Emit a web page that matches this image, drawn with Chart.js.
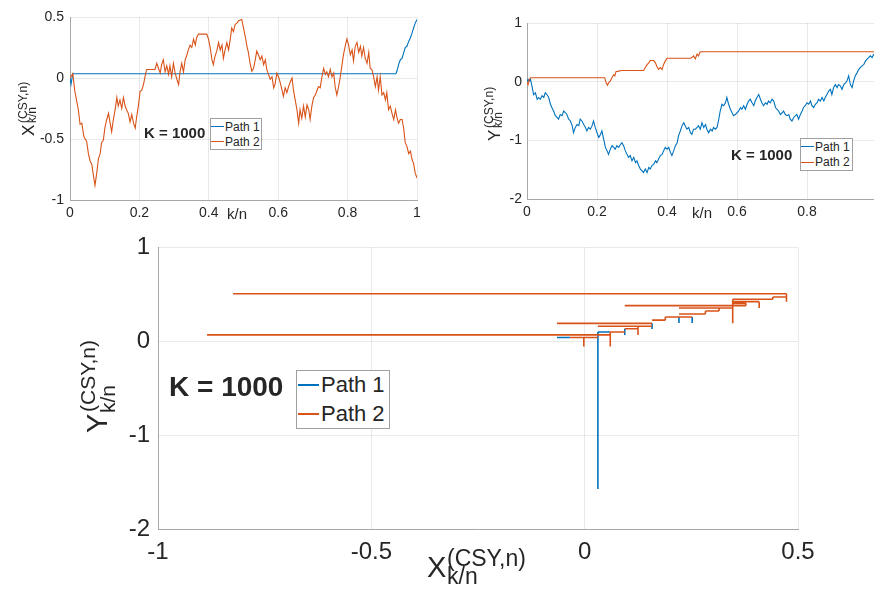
<!DOCTYPE html>
<html>
<head>
<meta charset="utf-8">
<script src="https://cdn.jsdelivr.net/npm/chart.js@4.4.1/dist/chart.umd.min.js"></script>
<style>
  html, body { margin: 0; padding: 0; width: 874px; height: 597px; overflow: hidden; background: #fff; }
  body { position: relative; font-family: 'Liberation Sans', Arial, sans-serif; color: #262626; }
  canvas { position: absolute; }
  .txt { position: absolute; white-space: nowrap; line-height: 1; }
  .grupo { position: absolute; width: 0; height: 0; transform-origin: 0 0; transform: rotate(-90deg); }
  .legenda { position: absolute; background: #fff; border: 1px solid #a0a0a0; box-sizing: border-box; }
  .legenda .linha { display: flex; align-items: center; white-space: nowrap; }
  .legenda .amostra { display: inline-block; height: 0; }
</style>
</head>
<body>
<canvas id="graficoX" width="440" height="225" style="left:0px;top:0px"></canvas>
<canvas id="graficoY" width="455" height="225" style="left:440px;top:0px"></canvas>
<canvas id="graficoXY" width="790" height="365" style="left:50px;top:225px"></canvas>

<script>
// Séries e rótulos
const nomesSeries = ['Path 1', 'Path 2'];
const coresSeries = ['#0072BD', '#D95319'];
const rotuloK = 'K = 1000';

// Marcas dos eixos
const ticksK = [0, 0.2, 0.4, 0.6, 0.8, 1];
const ticksXsup = [-1, -0.5, 0, 0.5];
const ticksYsup = [-2, -1, 0, 1];
const ticksX = [-1, -0.5, 0, 0.5];
const ticksY = [-2, -1, 0, 1];

// Painel superior esquerdo: X_{k/n} contra k/n
const kxPath1 = [0, 0.003, 0.008, 0.939, 0.942, 0.947, 0.952, 0.957, 0.962, 0.966, 0.971, 0.976, 0.981, 0.986, 0.99, 0.995, 1];
const xPath1 = [0, -0.05, 0.035, 0.035, 0.055, 0.11, 0.15, 0.16, 0.21, 0.25, 0.26, 0.30, 0.33, 0.37, 0.41, 0.45, 0.48];

const kxPath2 = [0, 0.008, 0.014, 0.024, 0.029, 0.034, 0.040, 0.048, 0.053, 0.058, 0.063, 0.067, 0.072, 0.077, 0.082, 0.087, 0.091, 0.096, 0.101, 0.106,
  0.111, 0.115, 0.120, 0.125, 0.130, 0.135, 0.139, 0.144, 0.149, 0.154, 0.159, 0.163, 0.168, 0.173, 0.178, 0.183, 0.188, 0.192, 0.197, 0.202,
  0.207, 0.212, 0.216, 0.221, 0.245, 0.250, 0.255, 0.260, 0.264, 0.269, 0.274, 0.279, 0.284, 0.288, 0.293, 0.298, 0.303, 0.308, 0.313, 0.317,
  0.322, 0.327, 0.332, 0.337, 0.341, 0.346, 0.351, 0.356, 0.361, 0.365, 0.370, 0.394, 0.399, 0.404, 0.409, 0.413, 0.418, 0.423, 0.428, 0.433,
  0.438, 0.442, 0.447, 0.452, 0.457, 0.462, 0.466, 0.471, 0.476, 0.481, 0.486, 0.495, 0.500, 0.505, 0.510, 0.514, 0.519, 0.524, 0.529, 0.534,
  0.538, 0.543, 0.548, 0.553, 0.558, 0.563, 0.567, 0.572, 0.577, 0.582, 0.587, 0.591, 0.596, 0.601, 0.606, 0.611, 0.615, 0.620, 0.625, 0.630,
  0.635, 0.640, 0.644, 0.649, 0.654, 0.659, 0.663, 0.668, 0.673, 0.678, 0.683, 0.688, 0.692, 0.697, 0.702, 0.707, 0.712, 0.716, 0.721, 0.726,
  0.731, 0.736, 0.740, 0.745, 0.750, 0.755, 0.760, 0.764, 0.769, 0.774, 0.779, 0.784, 0.788, 0.793, 0.798, 0.803, 0.808, 0.813, 0.817, 0.822,
  0.827, 0.832, 0.837, 0.841, 0.846, 0.851, 0.856, 0.861, 0.865, 0.870, 0.875, 0.880, 0.885, 0.889, 0.894, 0.899, 0.904, 0.909, 0.913, 0.918,
  0.923, 0.928, 0.933, 0.938, 0.942, 0.947, 0.952, 0.957, 0.962, 0.966, 0.971, 0.976, 0.981, 0.986, 0.990, 0.995, 1.000];
const xPath2 = [0, 0.036, -0.11, -0.26, -0.38, -0.37, -0.48, -0.52, -0.62, -0.68, -0.71, -0.79, -0.88, -0.78, -0.66, -0.62, -0.53, -0.51, -0.40, -0.34,
  -0.29, -0.36, -0.44, -0.34, -0.26, -0.16, -0.23, -0.18, -0.25, -0.16, -0.23, -0.26, -0.29, -0.36, -0.30, -0.37, -0.41, -0.32, -0.23, -0.11,
  -0.10, -0.05, 0.01, 0.07, 0.07, 0.12, 0.08, 0.04, 0.11, 0.15, 0.05, 0.10, 0.03, 0.10, 0.01, 0.12, 0.04, -0.01, -0.055, 0.05,
  0.12, 0.05, 0.15, 0.19, 0.23, 0.27, 0.25, 0.32, 0.27, 0.33, 0.36, 0.36, 0.32, 0.25, 0.15, 0.11, 0.18, 0.22, 0.29, 0.23,
  0.27, 0.16, 0.23, 0.29, 0.23, 0.32, 0.41, 0.38, 0.44, 0.45, 0.47, 0.48, 0.41, 0.34, 0.26, 0.21, 0.12, 0.055, 0.08, 0.15,
  0.22, 0.19, 0.15, 0.18, 0.11, 0.15, 0.07, 0.03, -0.01, 0.01, -0.08, -0.05, 0.04, 0.01, -0.04, -0.10, -0.15, -0.08, -0.12, -0.07,
  -0.03, 0, -0.10, -0.18, -0.26, -0.37, -0.26, -0.33, -0.23, -0.32, -0.22, -0.26, -0.34, -0.23, -0.16, -0.14, -0.10, -0.07, -0.08, 0.01,
  0.08, 0.03, 0.05, 0.01, 0.07, 0.01, 0.04, -0.07, -0.14, -0.07, 0.01, 0.11, 0.19, 0.26, 0.32, 0.27, 0.19, 0.23, 0.14, 0.26,
  0.29, 0.21, 0.26, 0.18, 0.25, 0.16, 0.12, 0.21, 0.08, 0.07, 0.01, -0.07, 0.01, -0.10, 0.01, -0.14, -0.12, -0.18, -0.12, -0.26,
  -0.23, -0.29, -0.34, -0.26, -0.32, -0.37, -0.34, -0.34, -0.42, -0.53, -0.56, -0.62, -0.60, -0.67, -0.70, -0.78, -0.82];

// Painel superior direito: Y_{k/n} contra k/n
const kyPath1 = [0, 0.003, 0.007, 0.010, 0.014, 0.019, 0.024, 0.029, 0.033, 0.038, 0.043, 0.048, 0.052, 0.057, 0.062, 0.067, 0.071, 0.076, 0.081, 0.086,
  0.090, 0.095, 0.100, 0.105, 0.110, 0.114, 0.119, 0.124, 0.129, 0.133, 0.138, 0.143, 0.148, 0.152, 0.157, 0.162, 0.167, 0.171, 0.176, 0.181,
  0.186, 0.190, 0.195, 0.200, 0.205, 0.210, 0.214, 0.219, 0.224, 0.229, 0.233, 0.238, 0.243, 0.248, 0.252, 0.257, 0.262, 0.267, 0.271, 0.276,
  0.281, 0.286, 0.290, 0.295, 0.300, 0.305, 0.310, 0.314, 0.319, 0.324, 0.329, 0.333, 0.338, 0.343, 0.348, 0.352, 0.357, 0.362, 0.367, 0.371,
  0.376, 0.381, 0.386, 0.390, 0.395, 0.400, 0.405, 0.410, 0.414, 0.419, 0.424, 0.429, 0.433, 0.438, 0.443, 0.448, 0.452, 0.457, 0.462, 0.467,
  0.471, 0.476, 0.481, 0.486, 0.490, 0.495, 0.500, 0.505, 0.510, 0.514, 0.519, 0.524, 0.529, 0.533, 0.538, 0.543, 0.548, 0.552, 0.557, 0.562,
  0.567, 0.571, 0.576, 0.581, 0.586, 0.590, 0.595, 0.600, 0.605, 0.610, 0.614, 0.619, 0.624, 0.629, 0.633, 0.638, 0.643, 0.648, 0.652, 0.657,
  0.662, 0.667, 0.671, 0.676, 0.681, 0.686, 0.690, 0.695, 0.700, 0.705, 0.710, 0.714, 0.719, 0.724, 0.729, 0.733, 0.738, 0.743, 0.748, 0.752,
  0.757, 0.762, 0.767, 0.771, 0.776, 0.781, 0.786, 0.790, 0.795, 0.800, 0.805, 0.810, 0.814, 0.819, 0.824, 0.829, 0.833, 0.838, 0.843, 0.848,
  0.852, 0.857, 0.862, 0.867, 0.871, 0.876, 0.881, 0.886, 0.890, 0.895, 0.900, 0.905, 0.910, 0.914, 0.919, 0.924, 0.929, 0.933, 0.938, 0.943,
  0.948, 0.952, 0.957, 0.962, 0.967, 0.971, 0.976, 0.981, 0.986, 0.990, 1.000];
const yPath1 = [0, 0.04, 0.01, 0.04, -0.07, -0.22, -0.19, -0.30, -0.27, -0.30, -0.24, -0.27, -0.19, -0.22, -0.27, -0.385, -0.44, -0.50, -0.58, -0.61,
  -0.64, -0.56, -0.58, -0.50, -0.53, -0.56, -0.64, -0.67, -0.75, -0.87, -0.78, -0.73, -0.75, -0.64, -0.67, -0.73, -0.78, -0.84, -0.78, -0.81,
  -0.75, -0.67, -0.78, -0.87, -0.95, -0.90, -0.84, -0.98, -1.12, -1.18, -1.24, -1.15, -1.09, -1.12, -1.15, -1.09, -1.12, -1.07, -1.04, -1.09,
  -1.18, -1.24, -1.29, -1.26, -1.35, -1.29, -1.38, -1.35, -1.43, -1.49, -1.52, -1.55, -1.49, -1.55, -1.46, -1.49, -1.43, -1.41, -1.35, -1.38,
  -1.32, -1.26, -1.24, -1.18, -1.12, -1.15, -1.12, -1.21, -1.26, -1.18, -1.09, -1.04, -0.92, -0.84, -0.75, -0.70, -0.75, -0.81, -0.78, -0.87,
  -0.90, -0.81, -0.81, -0.78, -0.75, -0.81, -0.70, -0.78, -0.73, -0.81, -0.87, -0.81, -0.84, -0.78, -0.81, -0.78, -0.64, -0.50, -0.385, -0.41,
  -0.36, -0.27, -0.385, -0.47, -0.53, -0.58, -0.56, -0.53, -0.50, -0.44, -0.47, -0.41, -0.47, -0.385, -0.33, -0.30, -0.36, -0.41, -0.33, -0.27,
  -0.22, -0.30, -0.36, -0.41, -0.36, -0.385, -0.33, -0.36, -0.30, -0.33, -0.44, -0.47, -0.50, -0.56, -0.53, -0.50, -0.56, -0.58, -0.56, -0.64,
  -0.67, -0.61, -0.58, -0.56, -0.64, -0.56, -0.50, -0.44, -0.41, -0.36, -0.385, -0.33, -0.41, -0.44, -0.385, -0.36, -0.30, -0.33, -0.27, -0.33,
  -0.27, -0.22, -0.16, -0.13, -0.22, -0.10, -0.05, -0.10, -0.05, -0.07, -0.13, -0.05, -0.02, 0.01, 0.10, -0.05, -0.10, 0.01, 0.10, 0.15,
  0.21, 0.24, 0.27, 0.29, 0.35, 0.38, 0.41, 0.44, 0.41, 0.46, 0.45];

const kyPath2 = [0, 0.003, 0.007, 0.010, 0.222, 0.226, 0.230, 0.233, 0.238, 0.243, 0.248, 0.251, 0.254, 0.262, 0.271, 0.333, 0.338, 0.343, 0.348, 0.352,
  0.362, 0.367, 0.371, 0.376, 0.381, 0.386, 0.390, 0.395, 0.400, 0.467, 0.471, 0.476, 0.481, 0.486, 0.490, 0.495, 1];
const yPath2 = [0, -0.05, 0.04, 0.068, 0.068, -0.02, -0.06, -0.02, 0.01, 0.07, 0.12, 0.10, 0.17, 0.18, 0.19, 0.19, 0.24, 0.29, 0.32, 0.36,
  0.36, 0.32, 0.26, 0.21, 0.24, 0.21, 0.29, 0.35, 0.40, 0.40, 0.41, 0.44, 0.39, 0.47, 0.44, 0.51, 0.51];

// Painel inferior: trechos horizontais [y, xInicio, xFim] e verticais [x, yInicio, yFim]
const planoPath1H = [[0.040, -0.065, -0.034], [0.099, 0.031, 0.060]];
const planoPath1V = [[0.031, 0.099, -1.573], [0.094, 0.133, 0.068], [0.158, 0.191, 0.130], [0.221, 0.258, 0.195], [0.252, 0.258, 0.195]];
const planoPath2H = [
  [0.507, -0.824, 0.473], [0.472, 0.441, 0.473], [0.447, 0.347, 0.441], [0.422, 0.347, 0.409], [0.404, 0.347, 0.378],
  [0.380, 0.094, 0.378], [0.354, 0.221, 0.347], [0.322, 0.283, 0.315], [0.290, 0.221, 0.283], [0.258, 0.189, 0.252],
  [0.225, 0.158, 0.189], [0.191, -0.065, 0.158], [0.160, 0.031, 0.158], [0.133, 0.094, 0.125], [0.099, 0.060, 0.094],
  [0.068, -0.885, 0.060], [0.040, -0.034, 0.031]];
const planoPath2V = [
  [0.473, 0.507, 0.422], [0.441, 0.472, 0.447], [0.409, 0.422, 0.354], [0.378, 0.404, 0.380], [0.347, 0.447, 0.191],
  [0.315, 0.354, 0.322], [0.283, 0.322, 0.290], [0.189, 0.258, 0.225], [0.125, 0.160, 0.068], [0.060, 0.099, -0.056],
  [-0.002, 0.040, -0.056]];

// Junta os vetores em pontos {x, y}
function pares(xs, ys) {
  return xs.map((x, i) => ({ x: x, y: ys[i] }));
}

// Transforma os trechos em uma linha com quebras (y nulo)
function trechos(horizontais, verticais) {
  const pontos = [];
  horizontais.forEach(([y, x1, x2]) => {
    pontos.push({ x: x1, y: y }, { x: x2, y: y }, { x: x2, y: null });
  });
  verticais.forEach(([x, y1, y2]) => {
    pontos.push({ x: x, y: y1 }, { x: x, y: y2 }, { x: x, y: null });
  });
  return pontos;
}

function serie(pontos, i, largura) {
  return {
    label: nomesSeries[i],
    data: pontos,
    showLine: true,
    spanGaps: false,
    borderColor: coresSeries[i],
    backgroundColor: coresSeries[i],
    borderWidth: largura,
    pointRadius: 0,
    order: i === 1 ? 0 : 1, // Path 2 fica por cima
  };
}

function eixo(min, max, marcas, fonte, padding, tamanho, horizontal) {
  return {
    type: 'linear',
    min: min,
    max: max,
    afterBuildTicks: (s) => { s.ticks = marcas.map((v) => ({ value: v })); },
    afterFit: (s) => { if (horizontal) { s.height = tamanho; } else { s.width = tamanho; } },
    ticks: {
      color: '#262626',
      font: { family: "'Liberation Sans', Arial, sans-serif", size: fonte },
      padding: padding,
      maxRotation: 0,
      autoSkip: false,
      callback: (v) => String(v),
    },
    grid: { color: 'rgba(0,0,0,0.085)', lineWidth: 1, drawTicks: false },
    border: { display: true, color: '#a8a8a8', width: 1 },
  };
}

function criarGrafico(id, datasets, eixoX, eixoY, padTop, padRight) {
  const ctx = document.getElementById(id).getContext('2d');
  return new Chart(ctx, {
    type: 'scatter',
    data: { datasets: datasets },
    options: {
      responsive: false,
      animation: false,
      events: [],
      layout: { padding: { top: padTop, right: padRight, left: 0, bottom: 0 } },
      plugins: { legend: { display: false }, tooltip: { enabled: false } },
      scales: { x: eixoX, y: eixoY },
    },
  });
}

// Texto solto
function texto(pai, t, x, y, tam, negrito, centro) {
  const el = document.createElement('span');
  el.className = 'txt';
  el.textContent = t;
  el.style.left = x + 'px';
  el.style.top = y + 'px';
  el.style.fontSize = tam + 'px';
  if (negrito) el.style.fontWeight = 'bold';
  if (centro) el.style.transform = 'translateX(-50%)';
  pai.appendChild(el);
  return el;
}

// Rótulo com sobrescrito e subscrito: [texto, u, v, tamanho]
function rotulo(x, y, partes, vertical) {
  const g = document.createElement('div');
  g.className = 'grupo';
  g.style.left = x + 'px';
  g.style.top = y + 'px';
  if (!vertical) g.style.transform = 'none';
  partes.forEach(([t, u, v, tam]) => texto(g, t, u, v, tam, false, false));
  document.body.appendChild(g);
}

function legenda(left, top, w, h, tam, amostra, margem, largura) {
  const caixa = document.createElement('div');
  caixa.className = 'legenda';
  Object.assign(caixa.style, { left: left + 'px', top: top + 'px', width: w + 'px', height: h + 'px', fontSize: tam + 'px' });
  nomesSeries.forEach((nome, i) => {
    const linha = document.createElement('div');
    linha.className = 'linha';
    linha.style.height = ((h - 2) / 2) + 'px';
    const a = document.createElement('span');
    a.className = 'amostra';
    a.style.width = amostra + 'px';
    a.style.borderTop = largura + 'px solid ' + coresSeries[i];
    a.style.margin = '0 ' + margem[1] + 'px 0 ' + margem[0] + 'px';
    linha.appendChild(a);
    linha.appendChild(document.createTextNode(nome));
    caixa.appendChild(linha);
  });
  document.body.appendChild(caixa);
}

// Painel superior esquerdo
criarGrafico('graficoX',
  [serie(pares(kxPath1, xPath1), 0, 1.1), serie(pares(kxPath2, xPath2), 1, 1.1)],
  eixo(0, 1, ticksK, 14, 5, 25, true),
  eixo(-1, 0.5, ticksXsup, 14, 6, 70, false),
  17, 23);

// Painel superior direito
criarGrafico('graficoY',
  [serie(pares(kyPath1, yPath1), 0, 1.1), serie(pares(kyPath2, yPath2), 1, 1.1)],
  eixo(0, 1, ticksK, 14, 5, 26, true),
  eixo(-2, 1, ticksYsup, 14, 5, 87, false),
  23, 18);

// Painel inferior: Y contra X
criarGrafico('graficoXY',
  [serie(trechos(planoPath1H, planoPath1V), 0, 1.6), serie(trechos(planoPath2H, planoPath2V), 1, 1.6)],
  eixo(-1, 0.5, ticksX, 24, 9, 61, true),
  eixo(-2, 1, ticksY, 24, 8, 108, false),
  16, 42);

// Rótulos dos eixos
texto(document.body, 'k/n', 237, 206, 15, false, true);
texto(document.body, 'k/n', 702, 205, 15, false, true);
rotulo(18, 136, [['X', 0, 1.5, 17], ['(CSY,n)', 13, -1.5, 12], ['k/n', 13, 8, 12]], true);
rotulo(484, 141, [['Y', 0, 1.5, 17], ['(CSY,n)', 13, -1.5, 12], ['k/n', 13, 8, 12]], true);
rotulo(80, 433, [['Y', 0, 3.2, 29], ['(CSY,n)', 21, -2.8, 21], ['k/n', 20, 17.3, 21]], true);
rotulo(427, 553, [['X', 0, 0, 29], ['(CSY,n)', 20, -6, 23], ['k/n', 20, 12, 23]], false);

// Anotações K e legendas
texto(document.body, rotuloK, 144, 125, 15, true, false);
texto(document.body, rotuloK, 731, 147, 15, true, false);
texto(document.body, rotuloK, 169, 373, 28, true, false);
legenda(210, 118, 52, 32, 12, 13, [0, 1], 1);
legenda(800, 138, 53, 33, 12, 13, [0, 1], 1);
legenda(296, 370, 94, 59, 22, 21, [1, 2], 2);
</script>
</body>
</html>
